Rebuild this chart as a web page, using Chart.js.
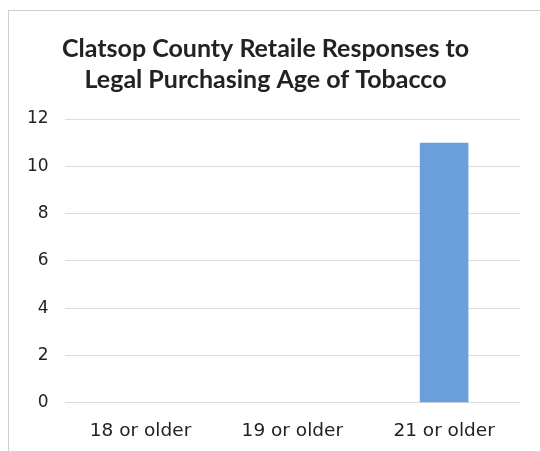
<!DOCTYPE html>
<html>
<head>
<meta charset="utf-8">
<script src="https://cdn.jsdelivr.net/npm/chart.js@4/dist/chart.umd.min.js"></script>
<style>
  html, body { margin: 0; padding: 0; background: #fff; }
  #wrap {
    position: absolute; left: 8px; top: 10px; width: 532px; height: 441px;
    border-left: 1px solid #cfcfcf; border-top: 1px solid #cfcfcf;
    box-sizing: border-box;
  }
</style>
</head>
<body>
<div id="wrap"><canvas id="chart"></canvas></div>
<script>
const categories = ["18 or older", "19 or older", "21 or older"];
const responses = [0, 0, 11];
const titleLines = ["Clatsop County Retaile Responses to", "Legal Purchasing Age of Tobacco"];

new Chart(document.getElementById("chart"), {
  type: "bar",
  data: {
    labels: categories,
    datasets: [
      {
        label: "Responses",
        data: responses,
        backgroundColor: "#6a9fdc",
        barPercentage: 0.32,
        categoryPercentage: 1,
      },
    ],
  },
  options: {
    responsive: true,
    maintainAspectRatio: false,
    animation: false,
    layout: { padding: { left: 2, right: 20, top: 15, bottom: 0 } },
    plugins: {
      legend: { display: false },
      tooltip: { enabled: false },
      title: {
        display: true,
        text: titleLines,
        color: "#222",
        font: { family: "Lato", size: 25, weight: "bold", lineHeight: 1.22 },
        padding: { top: 8, bottom: 24 },
      },
    },
    scales: {
      x: {
        grid: { display: false },
        border: { display: false },
        ticks: { color: "#222", font: { family: "DejaVu Sans", size: 18.5 }, padding: 9 },
      },
      y: {
        min: 0,
        max: 12,
        ticks: { stepSize: 2, color: "#222", font: { family: "DejaVu Sans", size: 17 }, padding: 16 },
        grid: { color: "#dcdcdc", drawTicks: false },
        border: { display: false },
      },
    },
  },
});
</script>
</body>
</html>
